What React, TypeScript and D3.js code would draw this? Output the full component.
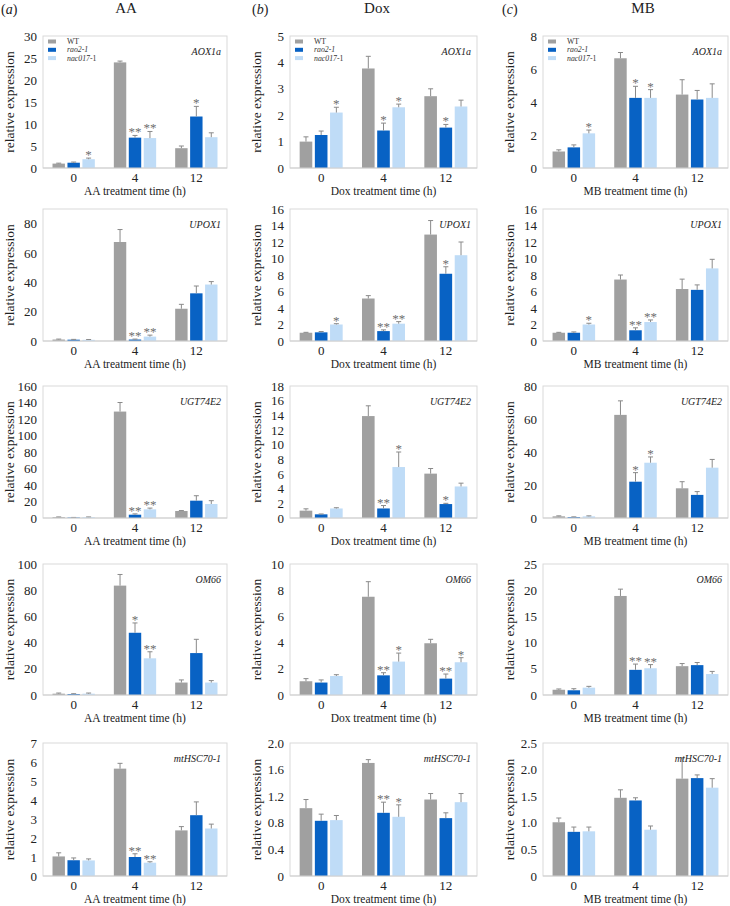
import React from "react";
import * as d3 from "d3";

const times = ["0", "4", "12"];
const genotypes = ["WT", "rao2-1", "nac017-1"];
const treatments = ["AA", "Dox", "MB"];
const panelLetters = ["a", "b", "c"];
const genes = ["AOX1a", "UPOX1", "UGT74E2", "OM66", "mtHSC70-1"];
const colors = ["#a0a0a0", "#0862c4", "#bfdcf7"];

// values ordered: 0h [WT, rao2-1, nac017-1], 4h [...], 12h [...]
// AOX1a
const AOX1a_AA = [1.0, 1.2, 2.0, 24.0, 6.9, 6.8, 4.5, 11.7, 7.0];
const AOX1a_AA_top = [1.1, 1.35, 2.25, 24.3, 7.4, 8.3, 5.0, 14.0, 8.0];
const AOX1a_AA_sig = ["", "", "*", "", "**", "**", "", "*", ""];
const AOX1a_Dox = [1.0, 1.25, 2.1, 3.77, 1.42, 2.3, 2.72, 1.53, 2.33];
const AOX1a_Dox_top = [1.18, 1.4, 2.3, 4.23, 1.7, 2.42, 3.0, 1.65, 2.57];
const AOX1a_Dox_sig = ["", "", "*", "", "*", "*", "", "*", ""];
const AOX1a_MB = [1.0, 1.25, 2.1, 6.65, 4.25, 4.25, 4.45, 4.15, 4.25];
const AOX1a_MB_top = [1.1, 1.4, 2.3, 7.0, 4.95, 4.75, 5.35, 4.7, 5.1];
const AOX1a_MB_sig = ["", "", "*", "", "*", "*", "", "", ""];
// UPOX1
const UPOX1_AA = [1.0, 0.9, 0.8, 67.5, 1.0, 3.0, 22.0, 32.5, 38.5];
const UPOX1_AA_top = [1.3, 1.1, 1.0, 76.0, 1.3, 4.0, 25.0, 37.5, 40.5];
const UPOX1_AA_sig = ["", "", "", "", "**", "**", "", "", ""];
const UPOX1_Dox = [1.0, 1.05, 2.0, 5.15, 1.2, 2.1, 12.9, 8.15, 10.4];
const UPOX1_Dox_top = [1.05, 1.15, 2.1, 5.5, 1.35, 2.35, 14.6, 9.0, 12.0];
const UPOX1_Dox_sig = ["", "", "*", "", "**", "**", "", "*", ""];
const UPOX1_MB = [1.0, 1.0, 2.0, 7.45, 1.3, 2.3, 6.3, 6.2, 8.8];
const UPOX1_MB_top = [1.05, 1.1, 2.15, 8.0, 1.6, 2.55, 7.5, 6.8, 9.9];
const UPOX1_MB_sig = ["", "", "*", "", "**", "**", "", "", ""];
// UGT74E2
const UGT74E2_AA = [1.0, 0.5, 1.0, 129.0, 4.0, 10.5, 8.5, 21.0, 17.0];
const UGT74E2_AA_top = [1.3, 0.7, 1.3, 140.0, 5.0, 12.0, 9.0, 27.0, 21.0];
const UGT74E2_AA_sig = ["", "", "", "", "**", "**", "", "", ""];
const UGT74E2_Dox = [1.0, 0.5, 1.3, 13.9, 1.3, 6.95, 6.05, 1.9, 4.3];
const UGT74E2_Dox_top = [1.25, 0.55, 1.4, 15.3, 1.7, 9.0, 6.75, 2.0, 4.75];
const UGT74E2_Dox_sig = ["", "", "", "", "**", "*", "", "*", ""];
const UGT74E2_MB = [1.0, 0.5, 1.0, 62.5, 22.0, 33.5, 18.0, 14.0, 30.5];
const UGT74E2_MB_top = [1.3, 0.7, 1.3, 71.0, 27.5, 37.0, 22.0, 16.0, 35.5];
const UGT74E2_MB_sig = ["", "", "", "", "*", "*", "", "", ""];
// OM66
const OM66_AA = [1.0, 0.7, 1.0, 83.5, 47.5, 28.0, 9.5, 32.0, 9.5];
const OM66_AA_top = [1.5, 1.0, 1.5, 92.0, 55.0, 33.0, 11.5, 42.5, 11.0];
const OM66_AA_sig = ["", "", "", "", "*", "**", "", "", ""];
const OM66_Dox = [1.05, 0.95, 1.45, 7.5, 1.5, 2.55, 3.95, 1.25, 2.5];
const OM66_Dox_top = [1.25, 1.15, 1.55, 8.65, 1.7, 3.2, 4.25, 1.6, 2.85];
const OM66_Dox_sig = ["", "", "", "", "**", "*", "", "**", "*"];
const OM66_MB = [1.0, 0.9, 1.4, 18.9, 4.8, 5.1, 5.5, 5.7, 4.0];
const OM66_MB_top = [1.15, 1.2, 1.65, 20.2, 5.9, 5.8, 6.0, 6.2, 4.5];
const OM66_MB_sig = ["", "", "", "", "**", "**", "", "", ""];
// mtHSC70-1
const mtHSC70_AA = [1.03, 0.83, 0.82, 5.65, 1.0, 0.7, 2.4, 3.2, 2.5];
const mtHSC70_AA_top = [1.22, 0.95, 0.9, 5.93, 1.17, 0.75, 2.6, 3.9, 2.73];
const mtHSC70_AA_sig = ["", "", "", "", "**", "**", "", "", ""];
const mtHSC70_Dox = [1.02, 0.83, 0.84, 1.7, 0.95, 0.89, 1.15, 0.87, 1.11];
const mtHSC70_Dox_top = [1.15, 0.93, 0.91, 1.75, 1.11, 1.07, 1.24, 0.95, 1.24];
const mtHSC70_Dox_sig = ["", "", "", "", "**", "*", "", "", ""];
const mtHSC70_MB = [1.01, 0.83, 0.84, 1.47, 1.42, 0.87, 1.83, 1.84, 1.66];
const mtHSC70_MB_top = [1.09, 0.92, 0.92, 1.62, 1.47, 0.94, 2.22, 1.9, 1.83];
const mtHSC70_MB_sig = ["", "", "", "", "", "", "", "", ""];

// y-axis domain maxima and tick labels, per row (gene) for each treatment column
const yMaxAA = [30, 90, 160, 100, 7];
const yMaxDox = [5, 16, 18, 10, 2.0];
const yMaxMB = [8, 16, 80, 25, 2.5];
const ticksAA = [
  ["0", "5", "10", "15", "20", "25", "30"],
  ["0", "20", "40", "60", "80"],
  ["0", "20", "40", "60", "80", "100", "120", "140", "160"],
  ["0", "20", "40", "60", "80", "100"],
  ["0", "1", "2", "3", "4", "5", "6", "7"],
];
const ticksDox = [
  ["0", "1", "2", "3", "4", "5"],
  ["0", "2", "4", "6", "8", "10", "12", "14", "16"],
  ["0", "2", "4", "6", "8", "10", "12", "14", "16", "18"],
  ["0", "2", "4", "6", "8", "10"],
  ["0", "0.4", "0.8", "1.2", "1.6", "2.0"],
];
const ticksMB = [
  ["0", "2", "4", "6", "8"],
  ["0", "2", "4", "6", "8", "10", "12", "14", "16"],
  ["0", "20", "40", "60", "80"],
  ["0", "5", "10", "15", "20", "25"],
  ["0", "0.5", "1.0", "1.5", "2.0", "2.5"],
];

const means = [
  [AOX1a_AA, AOX1a_Dox, AOX1a_MB],
  [UPOX1_AA, UPOX1_Dox, UPOX1_MB],
  [UGT74E2_AA, UGT74E2_Dox, UGT74E2_MB],
  [OM66_AA, OM66_Dox, OM66_MB],
  [mtHSC70_AA, mtHSC70_Dox, mtHSC70_MB],
];
const tops = [
  [AOX1a_AA_top, AOX1a_Dox_top, AOX1a_MB_top],
  [UPOX1_AA_top, UPOX1_Dox_top, UPOX1_MB_top],
  [UGT74E2_AA_top, UGT74E2_Dox_top, UGT74E2_MB_top],
  [OM66_AA_top, OM66_Dox_top, OM66_MB_top],
  [mtHSC70_AA_top, mtHSC70_Dox_top, mtHSC70_MB_top],
];
const sigs = [
  [AOX1a_AA_sig, AOX1a_Dox_sig, AOX1a_MB_sig],
  [UPOX1_AA_sig, UPOX1_Dox_sig, UPOX1_MB_sig],
  [UGT74E2_AA_sig, UGT74E2_Dox_sig, UGT74E2_MB_sig],
  [OM66_AA_sig, OM66_Dox_sig, OM66_MB_sig],
  [mtHSC70_AA_sig, mtHSC70_Dox_sig, mtHSC70_MB_sig],
];
const yMaxes = [yMaxAA, yMaxDox, yMaxMB];
const tickSets = [ticksAA, ticksDox, ticksMB];

// layout
const W = 730;
const H = 906;
const colLeft = [43, 290, 543];
const colRight = [227, 477, 728];
const rowTop = [36, 209, 386, 564, 743];
const rowBottom = [168, 341, 518, 695, 876];
const headerX = [126, 377, 643];
const letterX = [1, 252, 502];
const FONT = "'Liberation Serif', 'Times New Roman', serif";

function Legend({ x, y }: { x: number; y: number }) {
  return (
    <g>
      {genotypes.map((g, i) => (
        <g key={g} transform={`translate(${x},${y + i * 8.3})`}>
          <rect x={0} y={-2} width={8} height={4} fill={colors[i]} />
          <text x={19} y={2.6} fontSize={7.8} fontFamily={FONT} fill="#333">
            {i === 0 && "WT"}
            {i === 1 && <tspan fontStyle="italic">rao2-1</tspan>}
            {i === 2 && (
              <>
                <tspan fontStyle="italic">nac017</tspan>
                <tspan>-1</tspan>
              </>
            )}
          </text>
        </g>
      ))}
    </g>
  );
}

function Panel({ r, c }: { r: number; c: number }) {
  const L = colLeft[c];
  const R = colRight[c];
  const T = rowTop[r];
  const B = rowBottom[r];
  const yMax = yMaxes[c][r];
  const ticks = tickSets[c][r];
  const m = means[r][c];
  const tp = tops[r][c];
  const sg = sigs[r][c];

  const x0 = d3.scaleBand<string>().domain(times).range([L, R]).paddingInner(0.31).paddingOuter(0.155);
  const x1 = d3.scaleBand<string>().domain(genotypes).range([0, x0.bandwidth()]).paddingInner(0.17);
  const y = d3.scaleLinear().domain([0, yMax]).range([B, T]);

  const bars: any[] = [];
  times.forEach((t, ti) => {
    genotypes.forEach((g, gi) => {
      const k = ti * 3 + gi;
      bars.push({ t, g, gi, v: m[k], top: tp[k], sig: sg[k], k });
    });
  });

  return (
    <g>
      <rect x={L} y={T} width={R - L} height={B - T} fill="none" stroke="#d9d9d9" strokeWidth={1} />
      {ticks.map((tk) => (
        <text
          key={tk}
          x={L - 6}
          y={y(parseFloat(tk)) + 4.5}
          textAnchor="end"
          fontSize={13}
          fontFamily={FONT}
          fill="#222"
        >
          {tk}
        </text>
      ))}
      {bars.map((b) => {
        const bx = (x0(b.t) as number) + (x1(b.g) as number);
        const bw = x1.bandwidth();
        const cx = bx + bw / 2;
        const yv = y(b.v);
        const yt = y(b.top);
        return (
          <g key={b.k}>
            <rect x={bx} y={yv} width={bw} height={B - yv} fill={colors[b.gi]} />
            {b.top > b.v && (
              <g stroke="#8a8a8a" strokeWidth={1}>
                <line x1={cx} x2={cx} y1={yv} y2={yt} />
                <line x1={cx - 2.5} x2={cx + 2.5} y1={yt} y2={yt} />
              </g>
            )}
            {b.sig && (
              <text x={cx} y={yt + 1} textAnchor="middle" fontSize={13} fontFamily={FONT} fill="#6e6e6e">
                {b.sig}
              </text>
            )}
          </g>
        );
      })}
      <line x1={L} x2={R} y1={B} y2={B} stroke="#d0d0d0" strokeWidth={1} />
      {times.map((t) => (
        <text
          key={t}
          x={(x0(t) as number) + x0.bandwidth() / 2}
          y={B + 14}
          textAnchor="middle"
          fontSize={13}
          fontFamily={FONT}
          fill="#222"
        >
          {t}
        </text>
      ))}
      <text
        x={(L + R) / 2}
        y={B + 27}
        textAnchor="middle"
        fontSize={11.5}
        fontFamily={FONT}
        fill="#222"
      >
        {treatments[c]} treatment time (h)
      </text>
      <text
        transform={`translate(${L - 29},${(T + B) / 2}) rotate(-90)`}
        textAnchor="middle"
        fontSize={13.5}
        fontFamily={FONT}
        fill="#222"
      >
        relative expression
      </text>
      <text
        x={R - 6}
        y={T + 19}
        textAnchor="end"
        fontSize={10}
        fontStyle="italic"
        fontFamily={FONT}
        fill="#222"
      >
        {genes[r]}
      </text>
      {r === 0 && <Legend x={L + 5} y={T + 5.5} />}
    </g>
  );
}

export default function App() {
  return (
    <svg
      width={W}
      height={H}
      viewBox={`0 0 ${W} ${H}`}
      style={{ position: "absolute", left: 0, top: 0, background: "#fff" }}
    >
      <rect width={W} height={H} fill="#fff" />
      {treatments.map((t, c) => (
        <g key={t}>
          <text x={letterX[c]} y={14} fontSize={14} fontFamily={FONT} fill="#222">
            (<tspan fontStyle="italic">{panelLetters[c]}</tspan>)
          </text>
          <text x={headerX[c]} y={13} textAnchor="middle" fontSize={15} fontFamily={FONT} fill="#222">
            {t}
          </text>
        </g>
      ))}
      {genes.map((g, r) =>
        treatments.map((t, c) => <Panel key={`${g}-${t}`} r={r} c={c} />)
      )}
    </svg>
  );
}
